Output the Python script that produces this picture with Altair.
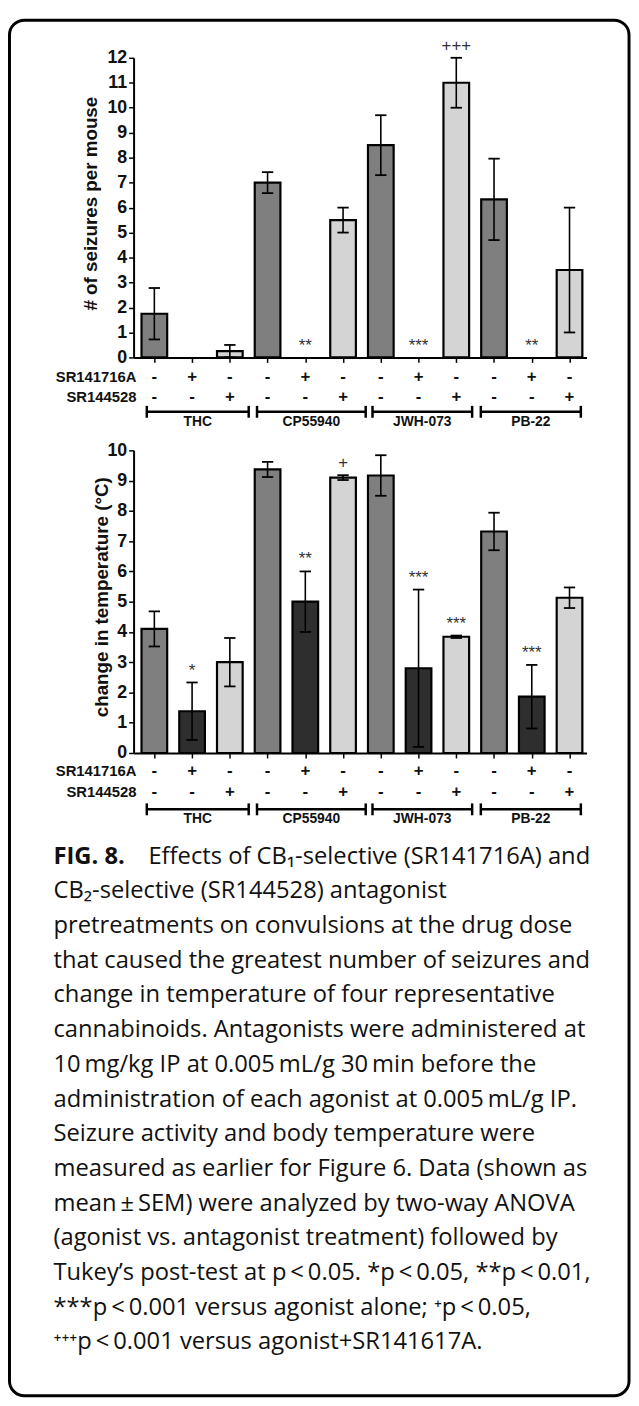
import altair as alt
import pandas as pd

# ---------------- data ----------------
agonists = ["THC", "CP55940", "JWH-073", "PB-22"]
bar_index = list(range(12))
bar_treat = ["agonist alone", "SR141716A", "SR144528"] * 4
sr141716a_signs = ["-", "+", "-"] * 4
sr144528_signs = ["-", "-", "+"] * 4

seizure_mean = [1.75, 0, 0.25, 7.0, 0, 5.5, 8.5, 0, 11.0, 6.33, 0, 3.5]
seizure_sem = [1.03, 0, 0.25, 0.42, 0, 0.5, 1.2, 0, 1.0, 1.63, 0, 2.5]
seizure_sig = ["", "", "", "", "**", "", "", "***", "+++", "", "**", ""]

temp_mean = [4.1, 1.38, 3.0, 9.37, 5.0, 9.1, 9.17, 2.8, 3.84, 7.32, 1.86, 5.13]
temp_sem = [0.58, 0.95, 0.8, 0.25, 1.0, 0.08, 0.67, 2.6, 0.04, 0.62, 1.05, 0.34]
temp_sig = ["", "*", "", "", "**", "+", "", "***", "***", "", "***", ""]

# bracket extents under each agonist group (in bar-index units)
bracket_start = [-0.2, 2.72, 5.78, 8.65]
bracket_end = [2.5, 5.6, 8.42, 11.3]

caption_lines = [
    "Effects of CB\u2081-selective (SR141716A) and",
    "CB\u2082-selective (SR144528) antagonist",
    "pretreatments on convulsions at the drug dose",
    "that caused the greatest number of seizures and",
    "change in temperature of four representative",
    "cannabinoids. Antagonists were administered at",
    "10\u2009mg/kg IP at 0.005\u2009mL/g 30\u2009min before the",
    "administration of each agonist at 0.005\u2009mL/g IP.",
    "Seizure activity and body temperature were",
    "measured as earlier for Figure 6. Data (shown as",
    "mean\u2009\u00b1\u2009SEM) were analyzed by two-way ANOVA",
    "(agonist vs. antagonist treatment) followed by",
    "Tukey\u2019s post-test at p\u2009<\u20090.05. *p\u2009<\u20090.05, **p\u2009<\u20090.01,",
    "***p\u2009<\u20090.001 versus agonist alone; \u207ap\u2009<\u20090.05,",
    "\u207a\u207a\u207ap\u2009<\u20090.001 versus agonist+SR141617A.",
]

treat_names = ["agonist alone", "SR141716A", "SR144528"]
treat_colors = ["#7f7f7f", "#2e2e2e", "#d4d4d4"]

FONT = "Liberation Sans"
CAP_FONT = "Open Sans"
INK = "#111111"
W = 458


def panel(mean, sem, sig, ymax, h, title, title_x, title_y, offs, frame=False):
    df = pd.DataFrame({
        "idx": bar_index, "treat": bar_treat,
        "sr1": sr141716a_signs, "sr2": sr144528_signs,
        "mean": mean, "sem": sem, "sig": sig,
    })
    br = pd.DataFrame({"agonist": agonists, "start": bracket_start, "end": bracket_end})

    xs = alt.Scale(domain=[-0.55, 11.45], nice=False, zero=False)
    ys = alt.Scale(domain=[0, ymax], nice=False)
    xax = alt.Axis(values=bar_index, tickCount=40, labels=False, ticks=True, tickSize=5, tickWidth=1.5,
                   tickColor="black", domainColor="black", domainWidth=2, grid=False, title=None)
    yax = alt.Axis(values=list(range(0, ymax + 1)), tickCount=40, format="d", tickSize=5, tickWidth=1.5,
                   tickColor="black", domainColor="black", domainWidth=2, grid=False,
                   labelFont=FONT, labelFontSize=18, labelFontWeight="bold", labelColor=INK,
                   labelPadding=2, labelOverlap=False, labelBound=False, labelFlush=False,
                   title=title, titleFont=FONT, titleFontSize=19,
                   titleFontWeight="bold", titleColor=INK, titleAngle=270,
                   titleX=title_x, titleY=title_y, titleAlign="center", titleBaseline="middle")

    def X(f, **kw):
        return alt.X(f, scale=xs, axis=xax, **kw)

    def Y(f, **kw):
        return alt.Y(f, scale=ys, axis=yax, **kw)

    base = alt.Chart(df)
    bars = base.transform_filter("datum.mean > 0").transform_calculate(
        xa="datum.idx - 0.34", xb="datum.idx + 0.34"
    ).mark_bar(stroke="black", strokeWidth=2.2).encode(
        x=X("xa:Q"),
        x2="xb:Q",
        y=Y("mean:Q"),
        y2=alt.datum(0),
        color=alt.Color("treat:N", scale=alt.Scale(domain=treat_names, range=treat_colors), legend=None),
    )
    errs = base.transform_filter("datum.sem > 0").transform_calculate(
        lo="datum.mean - datum.sem", hi="datum.mean + datum.sem",
        ca="datum.idx - 0.15", cb="datum.idx + 0.15",
    )
    err_line = errs.mark_rule(color="black", strokeWidth=1.6).encode(
        x=X("idx:Q"), y=Y("lo:Q"), y2="hi:Q")
    cap_hi = errs.mark_rule(color="black", strokeWidth=1.8).encode(
        x=X("ca:Q"), x2="cb:Q", y=Y("hi:Q"))
    cap_lo = errs.mark_rule(color="black", strokeWidth=1.8).encode(
        x=X("ca:Q"), x2="cb:Q", y=Y("lo:Q"))
    sig_txt = base.transform_filter("datum.sig != ''").transform_calculate(
        hi="datum.mean + datum.sem"
    ).mark_text(font=FONT, fontSize=17, color="#333333", baseline="alphabetic", dy=-7).encode(
        x=X("idx:Q"), y=Y("hi:Q"), text="sig:N")

    sign_style = dict(font=FONT, fontSize=17, fontWeight="bold", color=INK, baseline="middle")
    row1 = base.mark_text(**sign_style).encode(
        x=X("idx:Q"), y=alt.value(h + offs[0]), text="sr1:N")
    row2 = base.mark_text(**sign_style).encode(
        x=X("idx:Q"), y=alt.value(h + offs[1]), text="sr2:N")
    name_style = dict(font=FONT, fontSize=15, fontWeight="bold", color=INK, align="right", baseline="middle")
    name1 = alt.Chart(pd.DataFrame({"n": ["SR141716A"]})).mark_text(**name_style).encode(
        x=alt.value(3), y=alt.value(h + offs[0]), text="n:N")
    name2 = alt.Chart(pd.DataFrame({"n": ["SR144528"]})).mark_text(**name_style).encode(
        x=alt.value(3), y=alt.value(h + offs[1]), text="n:N")

    bb = alt.Chart(br)
    br_line = bb.mark_rule(color="black", strokeWidth=2.5).encode(
        x=X("start:Q"), x2="end:Q", y=alt.value(h + offs[2]))
    br_l = bb.mark_rule(color="black", strokeWidth=2.5).encode(
        x=X("start:Q"), y=alt.value(h + offs[2] - 6), y2=alt.value(h + offs[2] + 6))
    br_r = bb.mark_rule(color="black", strokeWidth=2.5).encode(
        x=X("end:Q"), y=alt.value(h + offs[2] - 6), y2=alt.value(h + offs[2] + 6))
    br_txt = bb.transform_calculate(mid="(datum.start + datum.end) / 2").mark_text(
        font=FONT, fontSize=14, fontWeight="bold", color=INK, baseline="middle"
    ).encode(x=X("mid:Q"), y=alt.value(h + offs[3]), text="agonist:N")

    layers = [bars, err_line, cap_hi, cap_lo, sig_txt, row1, row2, name1, name2,
              br_line, br_l, br_r, br_txt]
    if frame:
        fr = alt.Chart(pd.DataFrame({"f": [1]})).mark_rect(
            fill="transparent", stroke="black", strokeWidth=3, cornerRadius=15
        ).encode(x=alt.value(-125.5), x2=alt.value(501), y=alt.value(-38), y2=alt.value(1353))
        layers = layers + [fr]
    return alt.layer(*layers).properties(width=W, height=h)


top = panel(seizure_mean, seizure_sem, seizure_sig, 12, 303, "# of seizures per mouse",
            -44, 147, [20, 40.5, 55, 65.5], frame=True)
bottom = panel(temp_mean, temp_sem, temp_sig, 10, 306, "change in temperature (\u00b0C)",
               -32, 148, [18.5, 40, 57, 66.5])

cap_df = pd.DataFrame({"line": list(range(len(caption_lines))), "text": caption_lines})
cap_y = alt.Y("line:Q", scale=alt.Scale(domain=[0, len(caption_lines) - 1], range=[11, 502]), axis=None)
cap_style = dict(font=CAP_FONT, fontSize=24, color="#111111", align="left", baseline="middle")
cap_rest = alt.Chart(cap_df).transform_filter("datum.line > 0").mark_text(**cap_style).encode(
    x=alt.value(-81), y=cap_y, text="text:N")
cap_first = alt.Chart(cap_df).transform_filter("datum.line == 0").mark_text(**cap_style).encode(
    x=alt.value(15), y=cap_y, text="text:N")
fig_lbl = alt.Chart(pd.DataFrame({"line": [0], "text": ["FIG. 8."]})).mark_text(
    font=CAP_FONT, fontSize=24, fontWeight="bold", color="#111111", align="left", baseline="middle"
).encode(x=alt.value(-81), y=cap_y, text="text:N")
caption = alt.layer(cap_rest, cap_first, fig_lbl).properties(width=W, height=510)

chart = alt.vconcat(top, bottom, caption, spacing=94, bounds="flush").properties(
    padding={"left": 0, "top": 2.5, "right": 0, "bottom": 0}
).configure_view(strokeWidth=0).configure_axis(
    labelFont=FONT, labelFontSize=18, labelFontWeight="bold", labelColor=INK,
    labelOverlap=False, tickColor="black", domainColor="black", grid=False
)

chart.save("out.html", embed_options={"renderer": "svg", "actions": False})
